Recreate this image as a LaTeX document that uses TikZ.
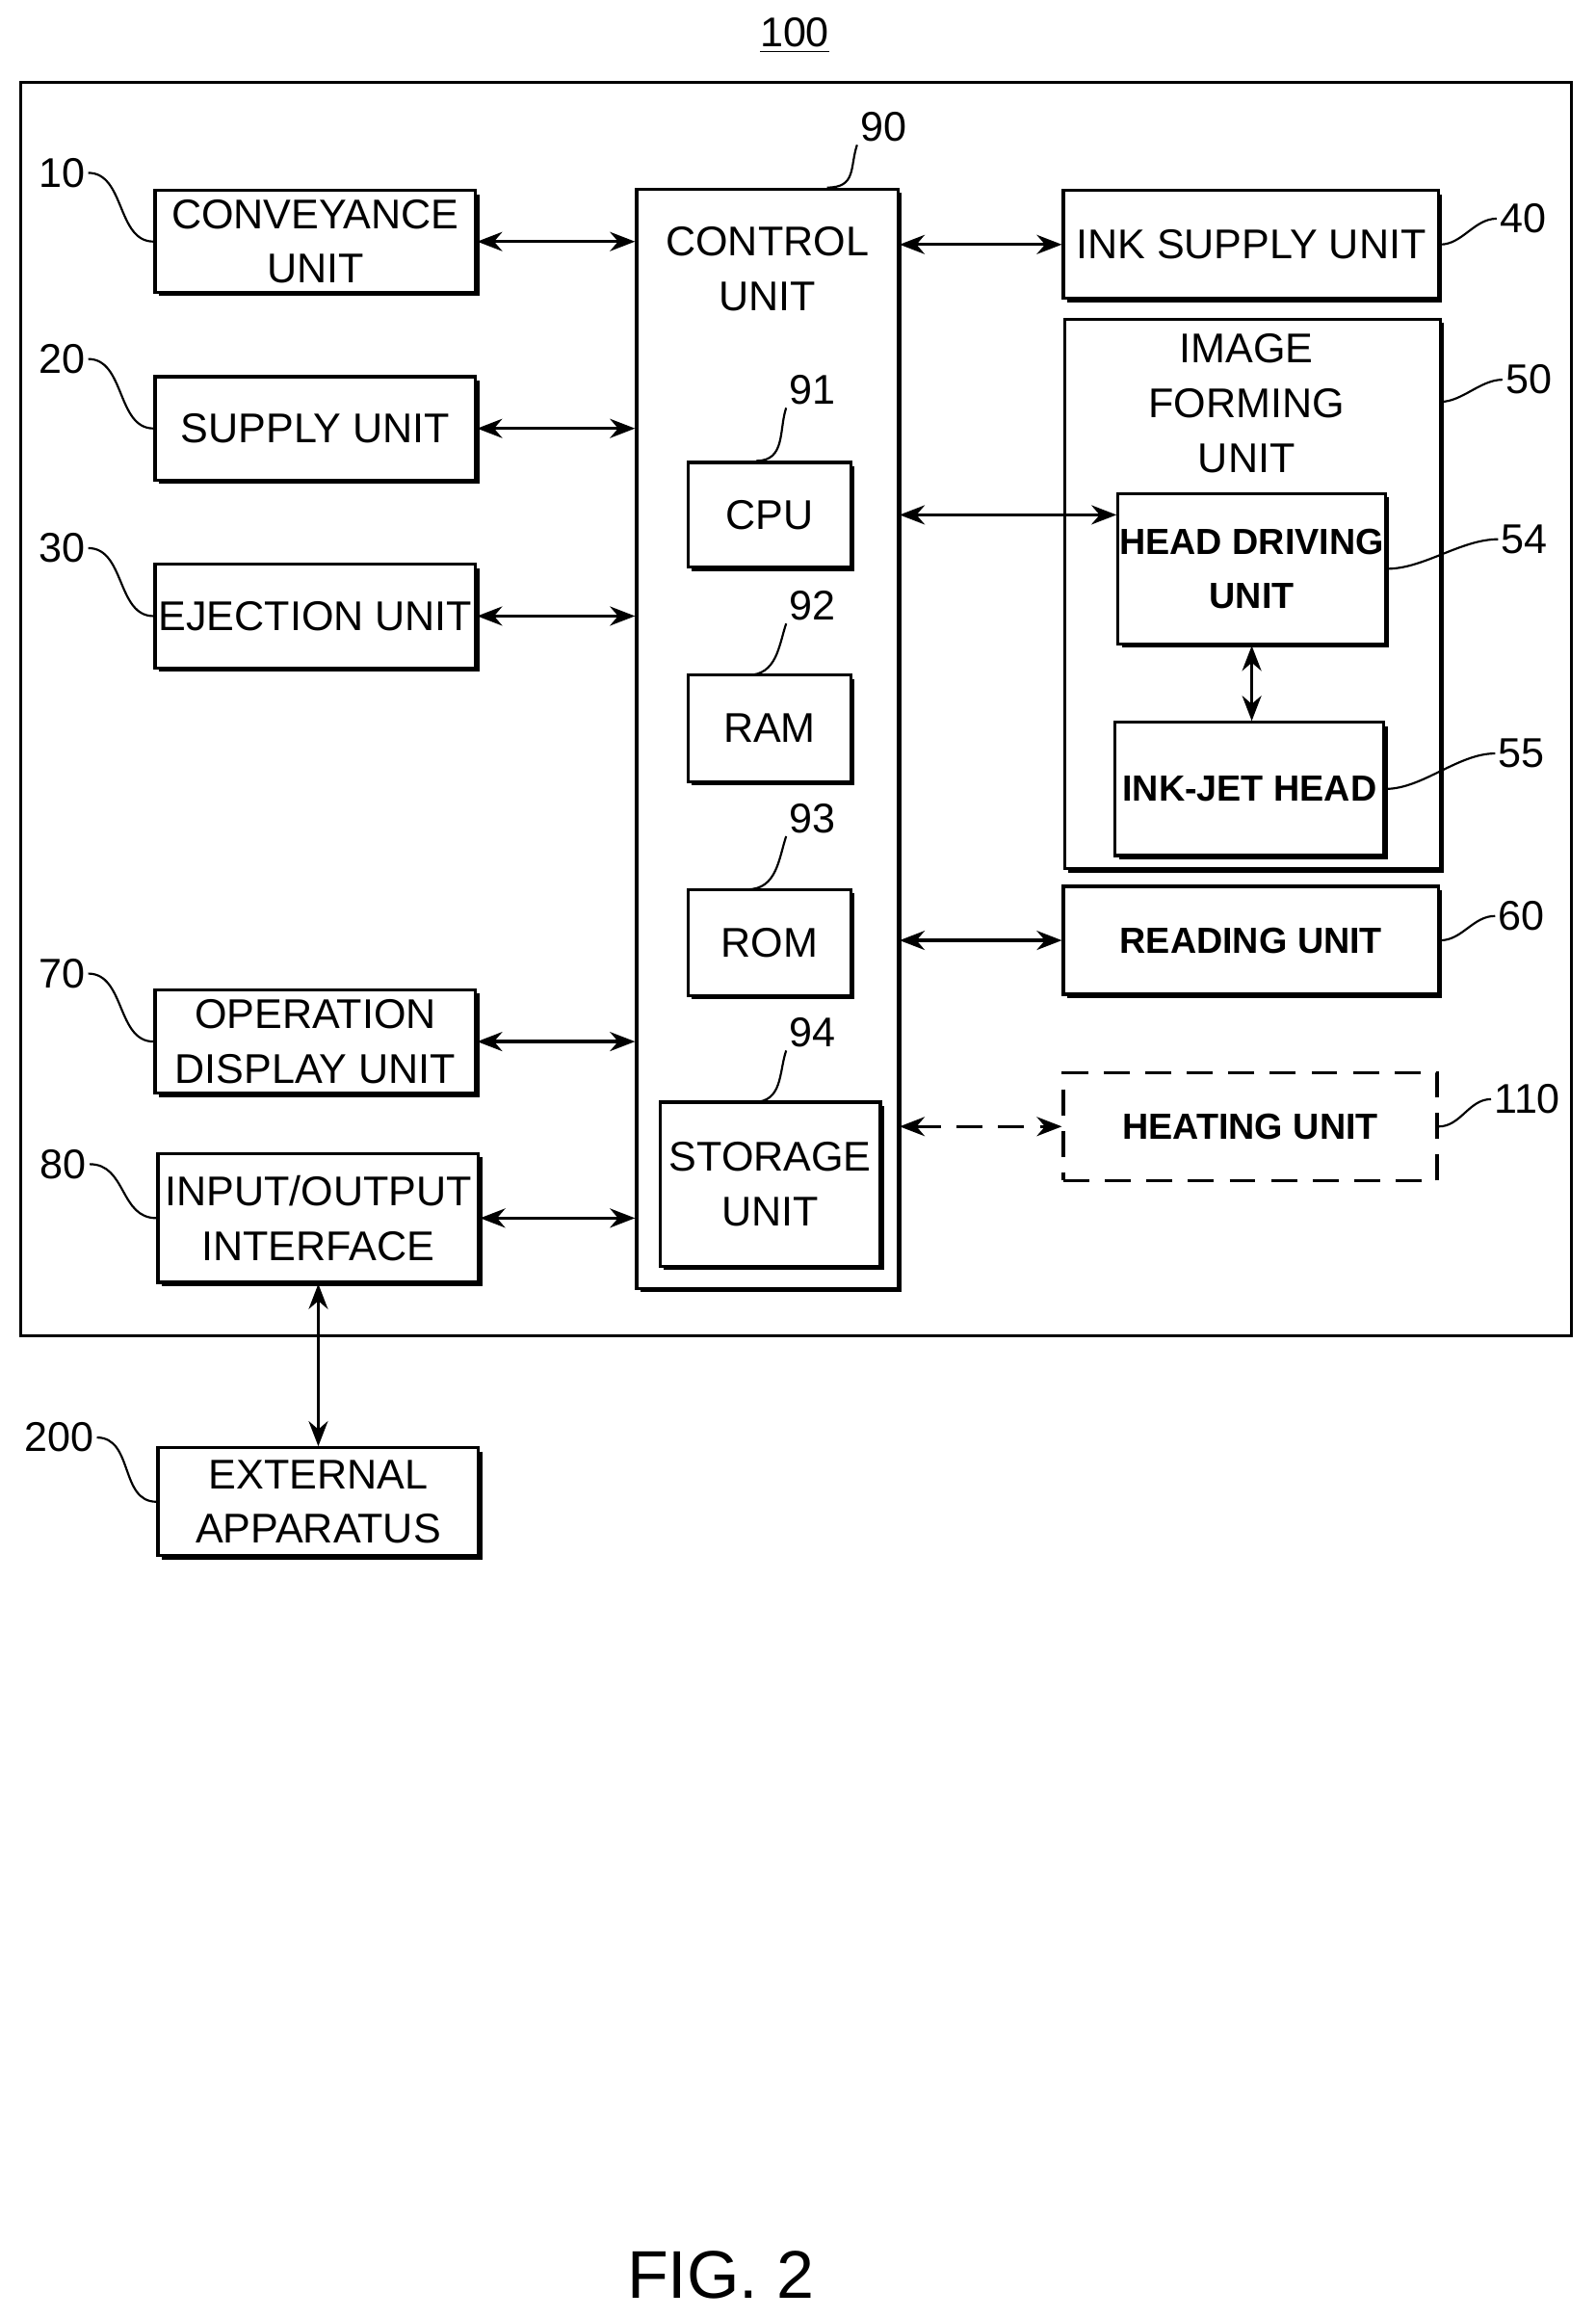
\documentclass[tikz,border=0pt]{standalone}
\usepackage{fontspec}
\setmainfont{Liberation Sans}
\usetikzlibrary{positioning}
\usetikzlibrary{arrows.meta}
\usetikzlibrary{shadows}

\begin{document}
\begin{tikzpicture}[x=0.02cm, y=-0.02cm,
            >={Stealth[length=0.34cm, width=0.26cm]},
        unitBox/.style = { draw, line width=1.2pt, fill=white, align=center, inner sep=0pt, font=\fontsize{16}{21}\selectfont,
                           drop shadow={shadow xshift=0.05cm, shadow yshift=-0.05cm, fill=black, opacity=1} },
        boldText/.style = { font=\fontsize{14}{21}\selectfont\bfseries },
        refNum/.style = { font=\fontsize{16}{19}\selectfont, inner sep=1pt },
        leader/.style = { line width=0.8pt },
        link/.style = { <->, line width=1.2pt },
        ]
    \useasboundingbox (0,0) rectangle (1080,1569);

    % frame
    \node[draw, line width=1.2pt, minimum width=1050*0.02cm, minimum height=848*0.02cm, inner sep=0pt] (frame) at (539,480) {};
    \node[refNum] (title) at (538,24) {\underline{100}};

    % left column
    \node[unitBox, minimum width=217*0.02cm, minimum height=69*0.02cm] (conv) at (213.5,163.5) {CONVEYANCE\\UNIT};
    \node[unitBox, minimum width=217*0.02cm, minimum height=70*0.02cm] (supply) at (213.5,290) {SUPPLY UNIT};
    \node[unitBox, minimum width=217*0.02cm, minimum height=70*0.02cm] (eject) at (213.5,417) {EJECTION UNIT};
    \node[unitBox, minimum width=217*0.02cm, minimum height=70*0.02cm] (opdisp) at (213.5,705) {OPERATION\\DISPLAY UNIT};
    \node[unitBox, minimum width=217*0.02cm, minimum height=87*0.02cm] (io) at (215.5,824.5) {INPUT/OUTPUT\\INTERFACE};
    \node[unitBox, minimum width=217*0.02cm, minimum height=73*0.02cm] (ext) at (215.5,1016.5) {EXTERNAL\\APPARATUS};

    % control unit
    \node[unitBox, minimum width=177*0.02cm, minimum height=744*0.02cm] (ctrl) at (519.5,500) {};
    \node[font=\fontsize{16}{21}\selectfont, align=center] (ctrltext) at (519.5,182) {CONTROL\\UNIT};
    \node[unitBox, minimum width=110*0.02cm, minimum height=71*0.02cm] (cpu) at (521,348.5) {CPU};
    \node[unitBox, minimum width=110*0.02cm, minimum height=72*0.02cm] (ram) at (521,493) {RAM};
    \node[unitBox, minimum width=110*0.02cm, minimum height=72*0.02cm] (rom) at (521,638) {ROM};
    \node[unitBox, minimum width=149*0.02cm, minimum height=111*0.02cm] (store) at (521.5,801.5) {STORAGE\\UNIT};

    % right column
    \node[unitBox, minimum width=254*0.02cm, minimum height=73*0.02cm] (ink) at (847,165.5) {INK SUPPLY UNIT};
    \node[unitBox, minimum width=254*0.02cm, minimum height=372*0.02cm] (imgform) at (848,402) {};
    \node[font=\fontsize{16}{21}\selectfont, align=center] (imgtext) at (844,273) {IMAGE\\FORMING\\UNIT};
    \node[unitBox, boldText, minimum width=181*0.02cm, minimum height=102*0.02cm] (headdrv) at (847.5,385) {HEAD DRIVING\\UNIT};
    \node[unitBox, boldText, minimum width=182*0.02cm, minimum height=90*0.02cm] (inkjet) at (846,534) {INK-JET HEAD};
    \node[unitBox, boldText, minimum width=254*0.02cm, minimum height=73*0.02cm] (reading) at (847,636.5) {READING UNIT};
    \node[draw, dashed, dash pattern=on 10pt off 6pt, line width=1.2pt, align=center, boldText, minimum width=253*0.02cm, minimum height=73*0.02cm] (heating) at (846.5,762.5) {HEATING UNIT};

    % connectors
    \draw[link] (conv.east) -- (conv.east -| ctrl.west);
    \draw[link] (supply.east) -- (supply.east -| ctrl.west);
    \draw[link] (eject.east) -- (eject.east -| ctrl.west);
    \draw[link] (opdisp.east) -- (opdisp.east -| ctrl.west);
    \draw[link] (io.east) -- (io.east -| ctrl.west);
    \draw[link] (io.south) -- (ext.north);
    \draw[link] (ink.west) -- (ink.west -| ctrl.east);
    \draw[link] (ctrl.east |- cpu) -- (ctrl.east |- cpu -| headdrv.west);
    \draw[link] (headdrv.south) -- (headdrv.south |- inkjet.north);
    \draw[link] (reading.west -| ctrl.east) -- (reading.west);
    \draw[link, dash pattern=on 10pt off 6pt] (heating.west -| ctrl.east) -- (heating.west);

    % reference numerals
    \node[refNum] (n10) at (42,117) {10};
    \node[refNum] (n20) at (42,243) {20};
    \node[refNum] (n30) at (42,371) {30};
    \node[refNum] (n70) at (42,659) {70};
    \node[refNum] (n80) at (43,788) {80};
    \node[refNum] (n200) at (40,973) {200};
    \node[refNum] (n90) at (598,86) {90};
    \node[refNum] (n91) at (550,264) {91};
    \node[refNum] (n92) at (550,410) {92};
    \node[refNum] (n93) at (550,554) {93};
    \node[refNum] (n94) at (550,699) {94};
    \node[refNum] (n40) at (1031,148) {40};
    \node[refNum] (n50) at (1035,257) {50};
    \node[refNum] (n54) at (1032,365) {54};
    \node[refNum] (n55) at (1030,510) {55};
    \node[refNum] (n60) at (1030,620) {60};
    \node[refNum] (n110) at (1034,744) {110};

    \draw[leader] (n10.east) .. controls +(25,0) and +(-25,0) .. (conv.west);
    \draw[leader] (n20.east) .. controls +(25,0) and +(-25,0) .. (supply.west);
    \draw[leader] (n30.east) .. controls +(25,0) and +(-25,0) .. (eject.west);
    \draw[leader] (n70.east) .. controls +(25,0) and +(-25,0) .. (opdisp.west);
    \draw[leader] (n80.east) .. controls +(25,0) and +(-25,0) .. (io.west);
    \draw[leader] (n200.east) .. controls +(25,0) and +(-25,0) .. (ext.west);
    \draw[leader] (n90.south west) .. controls +(-5,15) and +(20,0) .. (ctrl.north -| 560,0);
    \draw[leader] (n91.south west) .. controls +(-5,15) and +(20,0) .. (cpu.north -| 512,0);
    \draw[leader] (n92.south west) .. controls +(-5,15) and +(20,0) .. (506,457);
    \draw[leader] (n93.south west) .. controls +(-5,15) and +(20,0) .. (506,602);
    \draw[leader] (n94.south west) .. controls +(-5,15) and +(20,0) .. (510,746);
    \draw[leader] (ink.east) .. controls +(15,0) and +(-15,0) .. (n40.west);
    \draw[leader] (975,272) .. controls +(15,0) and +(-15,0) .. (n50.west);
    \draw[leader] (headdrv.east) .. controls +(25,0) and +(-25,0) .. (n54.west);
    \draw[leader] (inkjet.east) .. controls +(25,0) and +(-25,0) .. (n55.west);
    \draw[leader] (reading.east) .. controls +(15,0) and +(-15,0) .. (n60.west);
    \draw[leader] (heating.east) .. controls +(15,0) and +(-15,0) .. (n110.west);

    \node[font=\fontsize{26}{30}\selectfont] (fig) at (488,1540) {FIG. 2};
\end{tikzpicture}
\end{document}
